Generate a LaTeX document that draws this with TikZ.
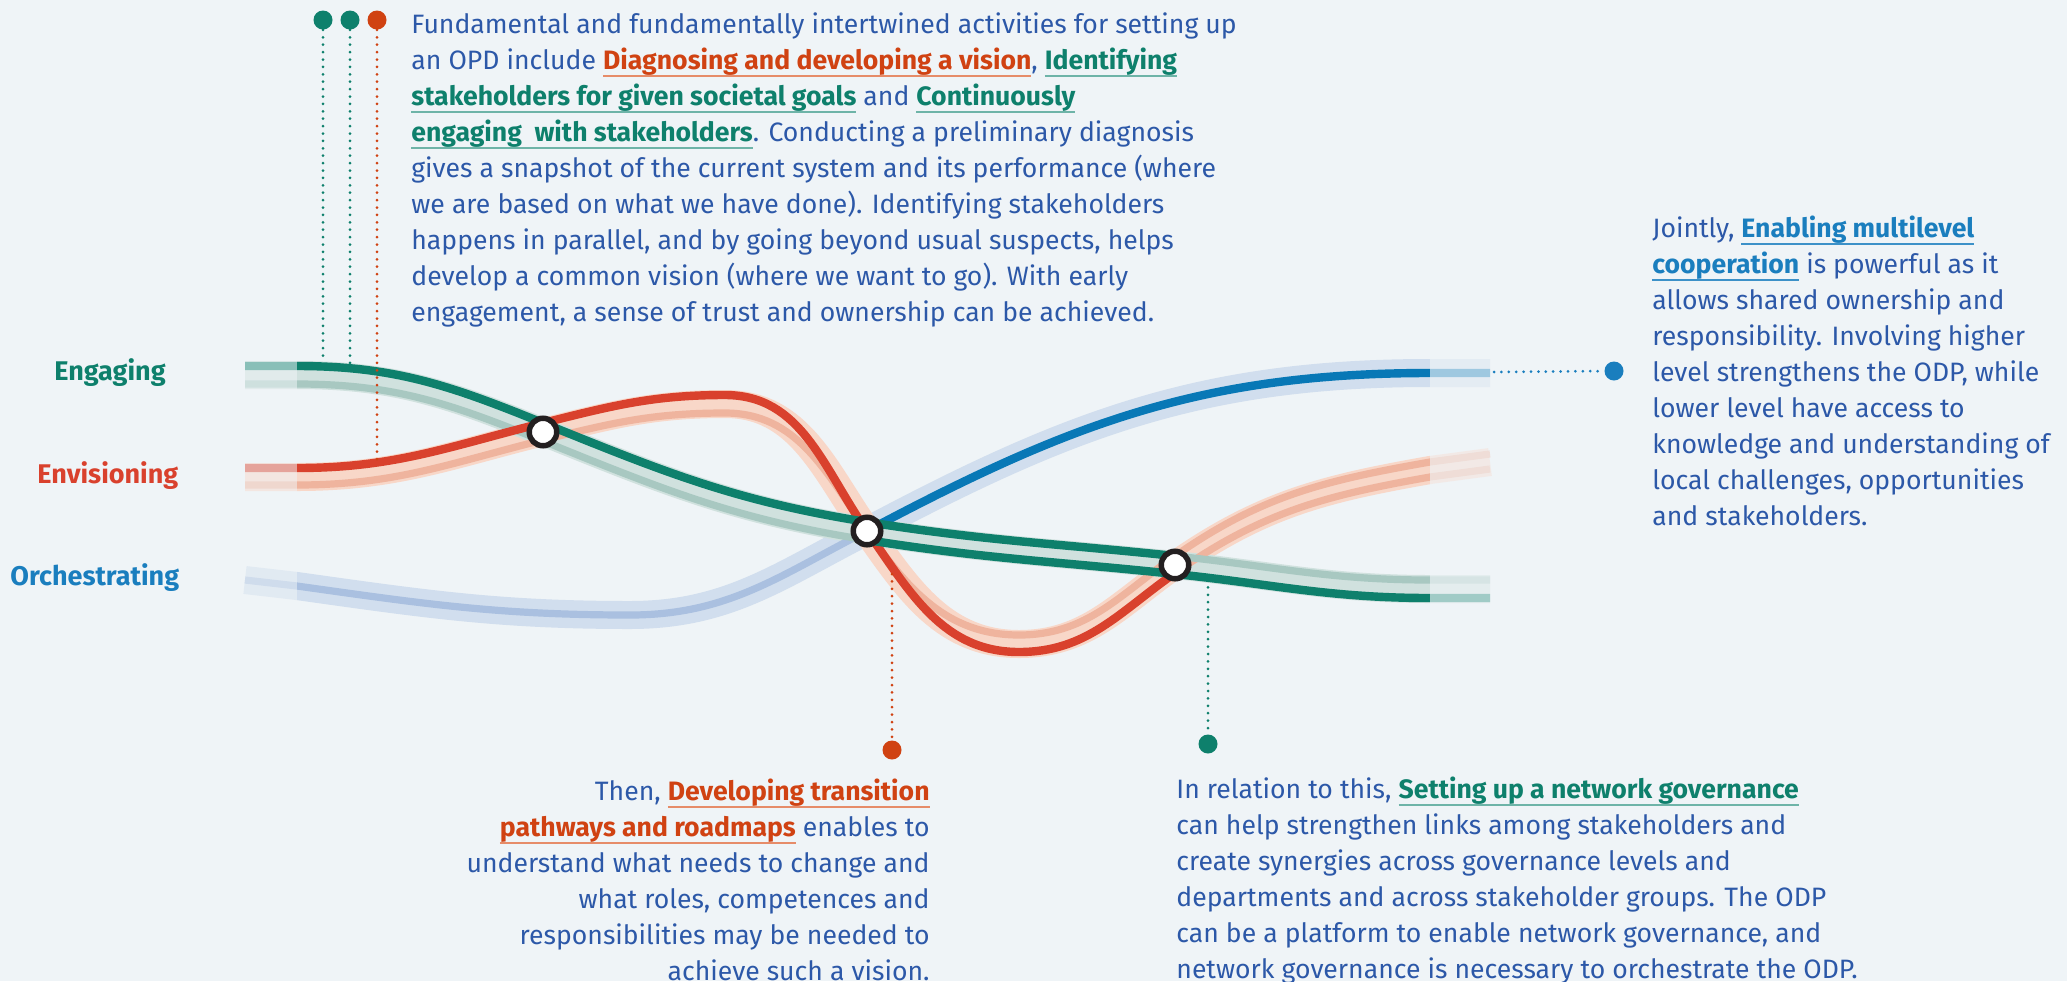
\documentclass[tikz,border=0pt]{standalone}
\usepackage{fontspec}
\setmainfont{Fira Sans}
\usepackage{tikz}
\usepackage{xcolor}

\definecolor{bgc}{RGB}{239,244,247}
\definecolor{txtblue}{RGB}{44,88,168}
\definecolor{engdark}{RGB}{14,128,108}
\definecolor{engmid}{RGB}{168,200,193}
\definecolor{engpale}{RGB}{208,225,222}
\definecolor{engul}{RGB}{110,180,168}
\definecolor{envdark}{RGB}{217,65,45}
\definecolor{envmid}{RGB}{239,180,158}
\definecolor{envpale}{RGB}{248,215,200}
\definecolor{envtext}{RGB}{208,66,18}
\definecolor{envul}{RGB}{230,140,105}
\definecolor{orcdark}{RGB}{8,120,182}
\definecolor{orcmid}{RGB}{170,192,224}
\definecolor{orcpale}{RGB}{209,222,238}
\definecolor{orctext}{RGB}{26,126,190}
\definecolor{orcul}{RGB}{60,145,200}
\definecolor{ringc}{RGB}{35,31,32}

\newcommand{\bodyfont}{\fontsize{13.3}{18}\selectfont}
\newcommand{\keyph}[3]{{\setbox0=\hbox{\bfseries\textcolor{#1}{#3}}\rlap{\textcolor{#2}{\rule[-4pt]{\wd0}{0.8pt}}}\box0}}

\begin{document}
\begin{tikzpicture}[x=0.5pt,y=-0.5pt,
  band/.style={line width=14pt},
  stripe/.style={line width=3.6pt},
  darkline/.style={line width=4.2pt},
  ring/.style={circle, draw=ringc, line width=2.75pt, fill=white, inner sep=0pt, minimum size=13.75pt},
  blob/.style={circle, fill=#1, inner sep=0pt, minimum size=9.5pt},
  leader/.style={#1, line width=1.5pt, line cap=round, dash pattern=on 0pt off 3.7pt},
  para/.style={text=txtblue, font=\bodyfont, inner sep=0pt},
  lbl/.style={font=\fontsize{13.5}{16}\selectfont\bfseries, inner sep=0pt, anchor=base west}]

\useasboundingbox (0,0) rectangle (2067,981);
\fill[bgc] (0,0) rectangle (2067,981);

% pale bands
\draw[band, orcpale] (245,580) -- (297,586) to[out=-8,in=180] (630,615) to[out=0,in=207] (867,531) to[out=28,in=180] (1430,373) -- (1490,373);
\draw[band, envpale] (245,477) -- (297,477) to[out=0,in=194] (543,432) to[out=14,in=180] (725,404) to[out=0,in=125] (867,531) to[out=-55,in=180] (1019,644) to[out=0,in=215] (1175,565) to[out=35,in=190] (1430,470) -- (1490,462);
\draw[band, engpale] (245,375) -- (297,375) to[out=0,in=158] (543,432) to[out=-22,in=171] (867,531) to[out=-9,in=174] (1175,565) to[out=-6,in=180] (1430,589) -- (1490,589);

% lighter stripes
\draw[stripe, orcmid] (245,580) -- (297,586) to[out=-8,in=180] (630,615) to[out=0,in=207] (867,531);
\draw[stripe, envmid] (245,485) -- (297,485) to[out=0,in=194] (543,440) to[out=14,in=180] (725,413) to[out=0,in=125] (867,531) to[out=-55,in=180] (1019,635) to[out=0,in=215] (1175,556) to[out=35,in=190] (1430,462) -- (1490,454);
\draw[stripe, envmid] (1175,573) to[out=35,in=190] (1430,477) -- (1490,469);
\draw[stripe, engmid] (245,384) -- (297,384) to[out=0,in=158] (543,441) to[out=-22,in=171] (867,540);
\draw[stripe, engmid] (1175,556) to[out=-6,in=180] (1430,580) -- (1490,580);

% dark lines
\draw[darkline, orcdark] (867,531) to[out=28,in=180] (1430,373) -- (1490,373);
\draw[darkline, envdark] (245,468) -- (297,468) to[out=0,in=194] (543,423) to[out=14,in=180] (725,395) to[out=0,in=125] (867,531) to[out=-55,in=180] (1019,652) to[out=0,in=215] (1175,573);
\draw[darkline, engdark] (245,366) -- (297,366) to[out=0,in=158] (543,423) to[out=-22,in=171] (867,522) to[out=-9,in=174] (1175,556);
\draw[darkline, engdark] (867,540) to[out=-9,in=174] (1175,574) to[out=-6,in=180] (1430,598) -- (1490,598);

% faded ends
\fill[bgc, opacity=0.55] (240,340) rectangle (297,630);
\fill[bgc, opacity=0.65] (1430,340) rectangle (1496,630);

% crossings
\node[ring] (n1) at (543,432) {};
\node[ring] (n2) at (867,531) {};
\node[ring] (n3) at (1175,565) {};

% leader lines
\node[blob=engdark] (d1) at (323,20) {};
\node[blob=engdark] (d2) at (350,20) {};
\node[blob=envtext] (d3) at (377,20) {};
\node[blob=envtext] (d4) at (892,750) {};
\node[blob=engdark] (d5) at (1208,744) {};
\node[blob=orctext] (d6) at (1614,371) {};
\coordinate (e1) at (323,362);
\coordinate (e2) at (350,364);
\coordinate (e3) at (377,462);
\coordinate (e4) at (892,574);
\coordinate (e5) at (1208,580);
\coordinate (e6) at (1494,372);
\draw[leader=engdark] (d1) -- (e1);
\draw[leader=engdark] (d2) -- (e2);
\draw[leader=envtext] (d3) -- (e3);
\draw[leader=envtext] (e4) -- (d4);
\draw[leader=engdark] (e5) -- (d5);
\draw[leader=orctext] (e6) -- (d6);

% labels
\node[lbl, text=engdark] (lEng) at (54,380) {Engaging};
\node[lbl, text=envdark] (lEnv) at (37,483) {Envisioning};
\node[lbl, text=orctext] (lOrc) at (10,585) {Orchestrating};

% texts (anchored on the baseline of their last line)
\node[para, align=left, anchor=base west] (tDiag) at (411,321) {Fundamental and fundamentally intertwined activities for setting up\\
an OPD include \keyph{envtext}{envul}{Diagnosing and developing a vision}, \keyph{engdark}{engul}{Identifying}\\
\keyph{engdark}{engul}{stakeholders for given societal goals} and \keyph{engdark}{engul}{Continuously}\\
\keyph{engdark}{engul}{engaging~~with stakeholders}. Conducting a preliminary diagnosis\\
gives a snapshot of the current system and its performance (where\\
we are based on what we have done). Identifying stakeholders\\
happens in parallel, and by going beyond usual suspects, helps\\
develop a common vision (where we want to go). With early\\
engagement, a sense of trust and ownership can be achieved.};

\node[para, align=left, anchor=base west] (tMulti) at (1652,525) {Jointly, \keyph{orctext}{orcul}{Enabling multilevel}\\
\keyph{orctext}{orcul}{cooperation} is powerful as it\\
allows shared ownership and\\
responsibility. Involving higher\\
level strengthens the ODP, while\\
lower level have access to\\
knowledge and understanding of\\
local challenges, opportunities\\
and stakeholders.};

\node[para, align=right, anchor=base east] (tPath) at (930,980) {Then, \keyph{envtext}{envul}{Developing transition}\\
\keyph{envtext}{envul}{pathways and roadmaps} enables to\\
understand what needs to change and\\
what roles, competences and\\
responsibilities may be needed to\\
achieve such a vision.};

\node[para, align=left, anchor=base west] (tGov) at (1176,978) {In relation to this, \keyph{engdark}{engul}{Setting up a network governance}\\
can help strengthen links among stakeholders and\\
create synergies across governance levels and\\
departments and across stakeholder groups. The ODP\\
can be a platform to enable network governance, and\\
network governance is necessary to orchestrate the ODP.};
\end{tikzpicture}
\end{document}
